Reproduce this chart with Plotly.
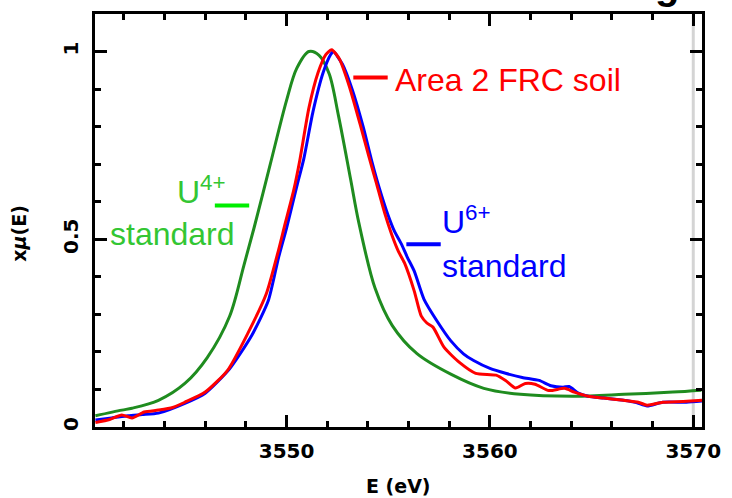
import plotly.graph_objects as go

# ---------------- data ----------------
e_u4 = [3540.6, 3541.9, 3542.4, 3543.7, 3545.0, 3546.1, 3547.2, 3547.9, 3548.4, 3549.2,
        3550.0, 3550.5, 3551.1, 3551.6, 3552.1, 3552.55, 3553.15, 3553.55, 3554.35, 3555.2,
        3556.4, 3558.1, 3559.7, 3561.5, 3564.2, 3566.6, 3569.0, 3570.4]
mu_u4 = [0.030, 0.045, 0.050, 0.071, 0.116, 0.185, 0.295, 0.430, 0.530, 0.700,
         0.870, 0.955, 1.000, 0.990, 0.940, 0.830, 0.660, 0.545, 0.370, 0.270,
         0.196, 0.140, 0.103, 0.087, 0.082, 0.087, 0.093, 0.098]

e_soil = [3540.6, 3541.3, 3541.9, 3542.4, 3543.0, 3543.7, 3544.4, 3545.0, 3546.0, 3547.1,
          3548.1, 3549.0, 3549.6, 3549.9, 3550.35, 3550.65, 3551.1, 3551.55, 3551.93, 3552.22,
          3552.6, 3553.1, 3553.65, 3554.05, 3554.4, 3554.83, 3555.17, 3555.5, 3555.8, 3556.28,
          3556.62, 3556.9, 3557.2, 3557.75, 3558.5, 3559.3, 3560.3, 3560.77, 3561.26, 3561.74,
          3562.22, 3562.9, 3563.67, 3564.15, 3564.83, 3565.6, 3566.57, 3567.3, 3567.73, 3568.5,
          3569.5, 3570.43]
mu_soil = [0.012, 0.020, 0.032, 0.024, 0.040, 0.045, 0.052, 0.066, 0.093, 0.151,
           0.250, 0.354, 0.470, 0.535, 0.630, 0.710, 0.850, 0.944, 0.992, 1.005,
           0.980, 0.905, 0.800, 0.720, 0.653, 0.569, 0.513, 0.468, 0.437, 0.362,
           0.296, 0.277, 0.266, 0.212, 0.172, 0.143, 0.138, 0.124, 0.104, 0.116,
           0.114, 0.097, 0.103, 0.093, 0.082, 0.077, 0.071, 0.066, 0.058, 0.066,
           0.068, 0.071]

e_u6 = [3540.6, 3541.4, 3542.2, 3542.9, 3543.7, 3545.0, 3546.0, 3547.2, 3548.3, 3549.1,
        3549.6, 3550.0, 3550.5, 3550.85, 3551.3, 3551.8, 3552.17, 3552.3, 3552.75, 3553.24,
        3553.77, 3554.2, 3554.54, 3554.98, 3555.31, 3555.65, 3555.94, 3556.28, 3556.76, 3557.39,
        3558.07, 3558.7, 3559.2, 3560.0, 3560.77, 3561.59, 3562.42, 3563.0, 3563.6, 3563.9,
        3564.35, 3564.83, 3565.6, 3566.57, 3567.2, 3567.73, 3568.5, 3569.66, 3570.43]
mu_u6 = [0.019, 0.024, 0.030, 0.033, 0.037, 0.063, 0.090, 0.155, 0.245, 0.336,
         0.450, 0.530, 0.640, 0.715, 0.840, 0.944, 0.992, 1.000, 0.966, 0.897,
         0.799, 0.706, 0.640, 0.566, 0.521, 0.487, 0.452, 0.415, 0.340, 0.283,
         0.230, 0.195, 0.177, 0.156, 0.143, 0.132, 0.124, 0.110, 0.106, 0.108,
         0.090, 0.082, 0.077, 0.071, 0.065, 0.056, 0.066, 0.066, 0.069]

x_ticks = [3550, 3560, 3570]
y_ticks = [0, 0.5, 1]
y_tick_text = ["0", "0.5", "1"]

# ---------------- figure ----------------
W, H = 732, 498
L, R, T, B = 95, 713, 11, 427

def px(x):
    return (x - L) / (R - L)

def py(y):
    return (B - y) / (B - T)

fig = go.Figure()
fig.add_trace(go.Scatter(x=e_u4, y=mu_u4, mode="lines",
                         line=dict(color="#1f8c1f", width=3, shape="spline", smoothing=0.9)))
fig.add_trace(go.Scatter(x=e_u6, y=mu_u6, mode="lines",
                         line=dict(color="#0000ff", width=3, shape="spline", smoothing=0.6)))
fig.add_trace(go.Scatter(x=e_soil, y=mu_soil, mode="lines",
                         line=dict(color="#ff0000", width=3, shape="spline", smoothing=0.6)))

tickfont = dict(family="DejaVu Sans", size=20, color="black", weight="bold")
lblfont = "Liberation Sans, Arial"

common = dict(ticks="inside", ticklen=12, tickwidth=3, tickcolor="black", showline=True,
              linewidth=3, linecolor="black", mirror="ticks", showgrid=False, zeroline=False,
              tickfont=tickfont)

fig.update_layout(
    width=W, height=H,
    margin=dict(l=L, r=W - R, t=T, b=H - B),
    paper_bgcolor="white", plot_bgcolor="white",
    showlegend=False,
    xaxis=dict(range=[3540.58, 3570.43], tickvals=x_ticks, ticklabelstandoff=4,
               minor=dict(dtick=2, tick0=3540, ticks="inside", ticklen=6, tickwidth=3,
                          tickcolor="black", showgrid=False), **common),
    yaxis=dict(range=[0, 1.1], tickvals=y_ticks, ticktext=y_tick_text, tickangle=-90,
               ticklabelstandoff=6,
               minor=dict(dtick=0.1, tick0=0, ticks="inside", ticklen=6, tickwidth=3,
                          tickcolor="black", showgrid=False), **common),
)

# light grey artifact line at right
fig.add_shape(type="line", xref="x", yref="paper", x0=3570, x1=3570, y0=0, y1=1,
              line=dict(color="#d4d4d4", width=3), layer="below")

# legend dashes
for (x0, x1, y, col) in [(358, 393, 75, "#ff0000"), (217, 252, 204, "#00ee00"),
                         (412, 447, 243, "#0000ff")]:
    fig.add_shape(type="line", xref="paper", yref="paper", x0=px(x0), x1=px(x1),
                  y0=py(y), y1=py(y), line=dict(color=col, width=4))

def label(text, x, yc, color, size=32):
    fig.add_annotation(text=text, xref="paper", yref="paper", x=px(x), y=py(yc),
                       xanchor="left", yanchor="middle", showarrow=False,
                       font=dict(family=lblfont, size=size, color=color))

label("Area 2 FRC soil", 398, 77, "#ff0000")
label("U<sup>4+</sup>", 176, 188, "#33c633")
label("standard", 108, 233, "#33c633")
label("U<sup>6+</sup>", 446, 218, "#0000ff")
label("standard", 446, 265, "#0000ff")

# axis titles
fig.add_annotation(text="E (eV)", xref="paper", yref="paper", x=px(404), y=py(486),
                   xanchor="center", yanchor="middle", showarrow=False,
                   font=dict(family="DejaVu Sans", size=19, color="black", weight="bold"))
fig.add_annotation(text="x<i>μ</i>(E)", xref="paper", yref="paper", x=px(18), y=py(232),
                   xanchor="center", yanchor="middle", showarrow=False, textangle=-90,
                   font=dict(family="DejaVu Sans", size=19, color="black", weight="bold"))

# partially visible glyph cut off at the top edge of the original image
fig.add_annotation(text="g", xref="paper", yref="paper", x=px(677), y=py(6),
                   xanchor="center", yanchor="bottom", showarrow=False,
                   font=dict(family="Liberation Sans", size=40, color="black", weight="bold"))

fig.write_html("out.html")
